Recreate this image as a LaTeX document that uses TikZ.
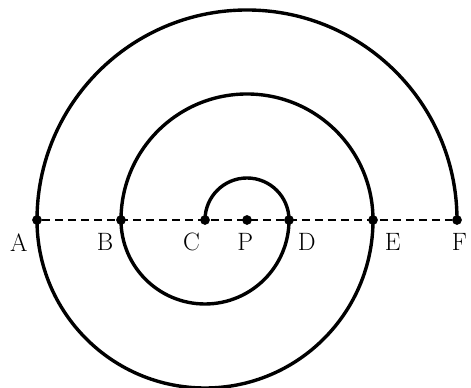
\documentclass[tikz,border=0pt]{standalone}
\usepackage{amsmath,amssymb}
\usepackage{tikz}
\usetikzlibrary{arrows.meta,positioning}

\begin{document}
\begin{tikzpicture}[dot/.style={circle, fill, inner sep=0pt, minimum size=6.6pt},
    lbl/.style={font=\fontsize{17}{19}\selectfont, inner sep=0pt},
    every node/.style={font=\large}]
    \useasboundingbox (-5.881,-4.0) rectangle (5.333,5.238);

    \node[dot] (A) at (-5,0) {};
    \node[dot] (B) at (-3,0) {};
    \node[dot] (C) at (-1,0) {};
    \node[dot] (P) at (0,0) {};
    \node[dot] (D) at (1,0) {};
    \node[dot] (E) at (3,0) {};
    \node[dot] (F) at (5,0) {};

    \draw[line width=1.3pt, dash pattern=on 5.4pt off 3.4pt] (A) -- (F);

    \draw[line width=2.3pt] (C.center) arc[start angle=180, end angle=0, radius=1]
        arc[start angle=0, end angle=-180, radius=2]
        arc[start angle=180, end angle=0, radius=3]
        arc[start angle=0, end angle=-180, radius=4]
        arc[start angle=180, end angle=0, radius=5];

    \node[lbl] (lA) at ([shift={(-0.43,-0.53)}]A.center) {A};
    \node[lbl] (lB) at ([shift={(-0.38,-0.53)}]B.center) {B};
    \node[lbl] (lC) at ([shift={(-0.32,-0.53)}]C.center) {C};
    \node[lbl] (lP) at ([shift={(-0.04,-0.53)}]P.center) {P};
    \node[lbl] (lD) at ([shift={(0.42,-0.53)}]D.center) {D};
    \node[lbl] (lE) at ([shift={(0.47,-0.53)}]E.center) {E};
    \node[lbl] (lF) at ([shift={(0.06,-0.53)}]F.center) {F};
  \end{tikzpicture}
\end{document}
